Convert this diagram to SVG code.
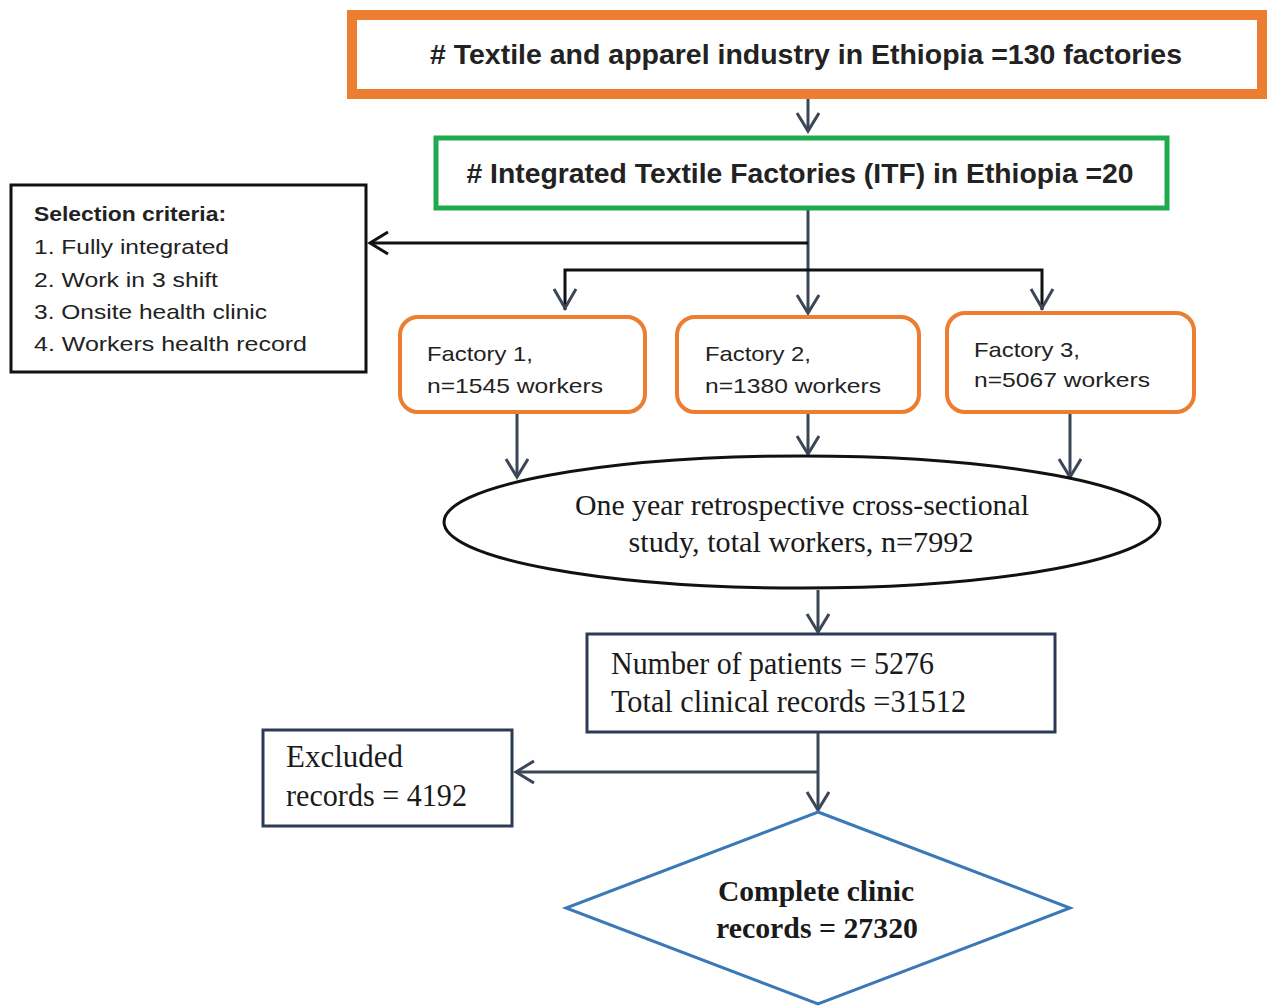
<svg xmlns="http://www.w3.org/2000/svg" width="1267" height="1007" viewBox="0 0 1267 1007">
<defs>
<style>
.sans{font-family:"Liberation Sans","Open Sans",sans-serif;fill:#222}
.serif{font-family:"Liberation Serif","DejaVu Serif",serif;fill:#1a1a1a}
.b{font-weight:bold}
.con{fill:none;stroke:#3b4657;stroke-width:3}
.conk{fill:none;stroke:#111;stroke-width:3}
.head{fill:none;stroke:#3b4657;stroke-width:3}
</style>
<marker id="ah" markerWidth="24" markerHeight="26" refX="19" refY="12" orient="auto" markerUnits="userSpaceOnUse">
<path d="M1,1 L19,12 L1,23" class="head"/>
</marker>
</defs>
<rect width="1267" height="1007" fill="#fff"/>

<g id="connectors">
<line class="con" x1="808" y1="98" x2="808" y2="131" marker-end="url(#ah)"/>
<line class="con" x1="808" y1="210" x2="808" y2="313" marker-end="url(#ah)"/>
<path class="conk" d="M808,243 H370"/>
<path d="M388,232 L370,243 L388,254" fill="none" stroke="#111" stroke-width="3"/>
<path class="conk" d="M565,310 V270 H1042 V310"/>
<path class="head" d="M554,289 L565,308 L576,289"/>
<path class="head" d="M1031,289 L1042,308 L1053,289"/>
<line class="con" x1="517" y1="413" x2="517" y2="477" marker-end="url(#ah)"/>
<line class="con" x1="808" y1="413" x2="808" y2="454" marker-end="url(#ah)"/>
<line class="con" x1="1070" y1="413" x2="1070" y2="477" marker-end="url(#ah)"/>
<line class="con" x1="818" y1="590" x2="818" y2="632" marker-end="url(#ah)"/>
<line class="con" x1="818" y1="733" x2="818" y2="810" marker-end="url(#ah)"/>
<line class="con" x1="818" y1="772" x2="516" y2="772" marker-end="url(#ah)"/>
</g>

<g id="n-industry">
<rect x="352" y="15" width="910" height="79" fill="#fff" stroke="#ed7d31" stroke-width="10"/>
<text class="sans b" x="806" y="64" font-size="28" text-anchor="middle" textLength="752" lengthAdjust="spacingAndGlyphs"># Textile and apparel industry in Ethiopia =130 factories</text>
</g>

<g id="n-itf">
<rect x="436" y="138" width="731" height="70" fill="#fff" stroke="#1faa4d" stroke-width="5"/>
<text class="sans b" x="800" y="183" font-size="28" text-anchor="middle" textLength="667" lengthAdjust="spacingAndGlyphs"># Integrated Textile Factories (ITF) in Ethiopia =20</text>
</g>

<g id="n-criteria">
<rect x="11" y="185" width="355" height="187" fill="#fff" stroke="#111" stroke-width="3"/>
<text class="sans b" x="34" y="221" font-size="21" textLength="192" lengthAdjust="spacingAndGlyphs">Selection criteria:</text>
<text class="sans" x="34" y="254" font-size="21" textLength="195" lengthAdjust="spacingAndGlyphs">1. Fully integrated</text>
<text class="sans" x="34" y="287" font-size="21" textLength="184" lengthAdjust="spacingAndGlyphs">2. Work in 3 shift</text>
<text class="sans" x="34" y="319" font-size="21" textLength="233" lengthAdjust="spacingAndGlyphs">3. Onsite health clinic</text>
<text class="sans" x="34" y="351" font-size="21" textLength="273" lengthAdjust="spacingAndGlyphs">4. Workers health record</text>
</g>

<g id="n-factory1">
<rect x="400" y="317" width="245" height="95" rx="18" fill="#fff" stroke="#ed7d31" stroke-width="4"/>
<text class="sans" x="427" y="361" font-size="21" textLength="106" lengthAdjust="spacingAndGlyphs">Factory 1,</text>
<text class="sans" x="427" y="393" font-size="21" textLength="176" lengthAdjust="spacingAndGlyphs">n=1545 workers</text>
</g>

<g id="n-factory2">
<rect x="677" y="317" width="242" height="95" rx="18" fill="#fff" stroke="#ed7d31" stroke-width="4"/>
<text class="sans" x="705" y="361" font-size="21" textLength="106" lengthAdjust="spacingAndGlyphs">Factory 2,</text>
<text class="sans" x="705" y="393" font-size="21" textLength="176" lengthAdjust="spacingAndGlyphs">n=1380 workers</text>
</g>

<g id="n-factory3">
<rect x="947" y="313" width="247" height="99" rx="18" fill="#fff" stroke="#ed7d31" stroke-width="4"/>
<text class="sans" x="974" y="357" font-size="21" textLength="106" lengthAdjust="spacingAndGlyphs">Factory 3,</text>
<text class="sans" x="974" y="387" font-size="21" textLength="176" lengthAdjust="spacingAndGlyphs">n=5067 workers</text>
</g>

<g id="n-study">
<ellipse cx="802" cy="522" rx="358" ry="66" fill="#fff" stroke="#111" stroke-width="3"/>
<text class="serif" x="802" y="515" font-size="30" text-anchor="middle" textLength="454" lengthAdjust="spacingAndGlyphs">One year retrospective cross-sectional</text>
<text class="serif" x="801" y="552" font-size="30" text-anchor="middle" textLength="345" lengthAdjust="spacingAndGlyphs">study, total workers, n=7992</text>
</g>

<g id="n-patients">
<rect x="587" y="634" width="468" height="98" fill="#fff" stroke="#2c3a57" stroke-width="3"/>
<text class="serif" x="611" y="674" font-size="31" textLength="323" lengthAdjust="spacingAndGlyphs">Number of patients = 5276</text>
<text class="serif" x="611" y="712" font-size="31" textLength="355" lengthAdjust="spacingAndGlyphs">Total clinical records =31512</text>
</g>

<g id="n-excluded">
<rect x="263" y="730" width="249" height="96" fill="#fff" stroke="#2c3a57" stroke-width="3"/>
<text class="serif" x="286" y="767" font-size="31" textLength="117" lengthAdjust="spacingAndGlyphs">Excluded</text>
<text class="serif" x="286" y="806" font-size="31" textLength="181" lengthAdjust="spacingAndGlyphs">records = 4192</text>
</g>

<g id="n-complete">
<polygon points="818,812 1070,908 818,1004 566,908" fill="#fff" stroke="#3a78b8" stroke-width="3"/>
<text class="serif b" x="816" y="901" font-size="29" text-anchor="middle" textLength="196" lengthAdjust="spacingAndGlyphs">Complete clinic</text>
<text class="serif b" x="817" y="938" font-size="29" text-anchor="middle" textLength="202" lengthAdjust="spacingAndGlyphs">records = 27320</text>
</g>
</svg>
